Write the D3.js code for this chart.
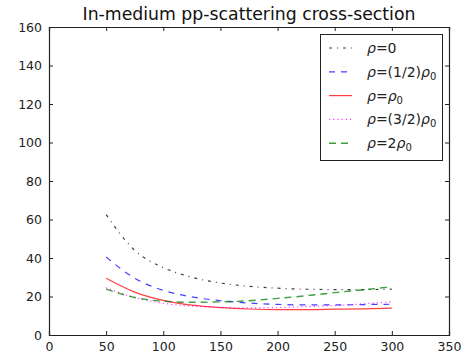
<!DOCTYPE html>
<html>
<head>
<meta charset="utf-8">
<script src="https://cdn.jsdelivr.net/npm/d3@7.9.0/dist/d3.min.js"></script>
<style>
  body { margin: 0; background: #fff; }
  svg { font-family: "DejaVu Sans", sans-serif; }
</style>
</head>
<body>
<svg id="chart" width="475" height="354"></svg>
<script>
// energies (x) and cross-sections (y)
const energies = [50, 75, 100, 125, 150, 175, 200, 225, 250, 275, 300];
const rho0 = [62.5, 44, 35, 30, 27, 25.3, 24.3, 23.8, 23.6, 23.6, 23.8];
const rhoHalf = [40.5, 29.5, 23.2, 19.8, 17.8, 16.6, 15.9, 15.6, 15.6, 15.8, 16.0];
const rhoOne = [29.5, 22.3, 18, 15.5, 14.2, 13.5, 13.2, 13.2, 13.4, 13.6, 14.0];
const rhoThreeHalf = [24.5, 19.5, 16.5, 15, 14.3, 14.1, 14.3, 14.7, 15.3, 16.2, 17.3];
const rhoTwo = [23.8, 19.5, 17.5, 17, 17.2, 17.8, 19, 20.4, 22, 23.5, 25];

const xTicks = [0, 50, 100, 150, 200, 250, 300, 350];
const yTicks = [0, 20, 40, 60, 80, 100, 120, 140, 160];

const series = [
  { label: ['0'], values: rho0, color: '#000000', dash: '3,5,1,5', width: 1.2 },
  { label: ['(1/2)', true], values: rhoHalf, color: '#0000ff', dash: '6,6', width: 1.2 },
  { label: ['', true], values: rhoOne, color: '#ff0000', dash: null, width: 1.2 },
  { label: ['(3/2)', true], values: rhoThreeHalf, color: '#ff00ff', dash: '1.2,3', width: 1.2 },
  { label: ['2', true], values: rhoTwo, color: '#008000', dash: '7,5', width: 1.4 }
];

const margin = { left: 49, right: 26, top: 27, bottom: 19 };
const width = 475, height = 354;

const svg = d3.select('#chart');

const x = d3.scaleLinear().domain([0, 350]).range([margin.left, width - margin.right]);
const y = d3.scaleLinear().domain([0, 160]).range([height - margin.bottom, margin.top]);

// title
svg.append('text')
  .attr('x', (x(0) + x(350)) / 2)
  .attr('y', 20)
  .attr('text-anchor', 'middle')
  .attr('font-size', 17.3)
  .attr('fill', '#111')
  .text('In-medium pp-scattering cross-section');

// lines
const line = d3.line().x((d, i) => x(energies[i])).y(d => y(d)).curve(d3.curveMonotoneX);

series.forEach(s => {
  svg.append('path')
    .attr('d', line(s.values))
    .attr('fill', 'none')
    .attr('stroke', s.color)
    .attr('stroke-width', s.width)
    .attr('stroke-dasharray', s.dash)
    .attr('opacity', 0.75);
});

// axes, ticks inside on all four sides
const tickLen = 4;
const axBottom = svg.append('g').attr('transform', `translate(0,${y(0)})`)
  .call(d3.axisBottom(x).tickValues(xTicks).tickSize(-tickLen).tickPadding(7));
const axTop = svg.append('g').attr('transform', `translate(0,${y(160)})`)
  .call(d3.axisTop(x).tickValues(xTicks).tickSize(-tickLen).tickFormat(''));
const axLeft = svg.append('g').attr('transform', `translate(${x(0)},0)`)
  .call(d3.axisLeft(y).tickValues(yTicks).tickSize(-tickLen).tickPadding(7));
const axRight = svg.append('g').attr('transform', `translate(${x(350)},0)`)
  .call(d3.axisRight(y).tickValues(yTicks).tickSize(-tickLen).tickFormat(''));

[axBottom, axTop, axLeft, axRight].forEach(g => {
  g.select('.domain').attr('stroke', '#222').attr('stroke-width', 1.2);
  g.selectAll('.tick line').attr('stroke', '#222');
  g.selectAll('.tick text').attr('font-size', 12.5).attr('fill', '#222').attr('font-family', '"DejaVu Sans", sans-serif');
});

// legend
const lg = svg.append('g');
lg.append('rect')
  .attr('x', 320.5).attr('y', 34.5)
  .attr('width', 122).attr('height', 126)
  .attr('fill', '#fff').attr('stroke', '#222').attr('stroke-width', 1);

series.forEach((s, i) => {
  const cy = 48 + i * 23.8;
  lg.append('line')
    .attr('x1', 329).attr('x2', 352)
    .attr('y1', cy).attr('y2', cy)
    .attr('stroke', s.color)
    .attr('stroke-width', s.width)
    .attr('stroke-dasharray', s.dash)
    .attr('opacity', 0.75);
  const t = lg.append('text')
    .attr('x', 367).attr('y', cy + 5)
    .attr('font-size', 14)
    .attr('fill', '#222');
  t.append('tspan').attr('font-style', 'italic').text('ρ');
  t.append('tspan').text('=' + s.label[0]);
  if (s.label[1]) {
    t.append('tspan').attr('font-style', 'italic').text('ρ');
    t.append('tspan').attr('font-size', 10).attr('dy', 3).text('0');
  }
});
</script>
</body>
</html>
